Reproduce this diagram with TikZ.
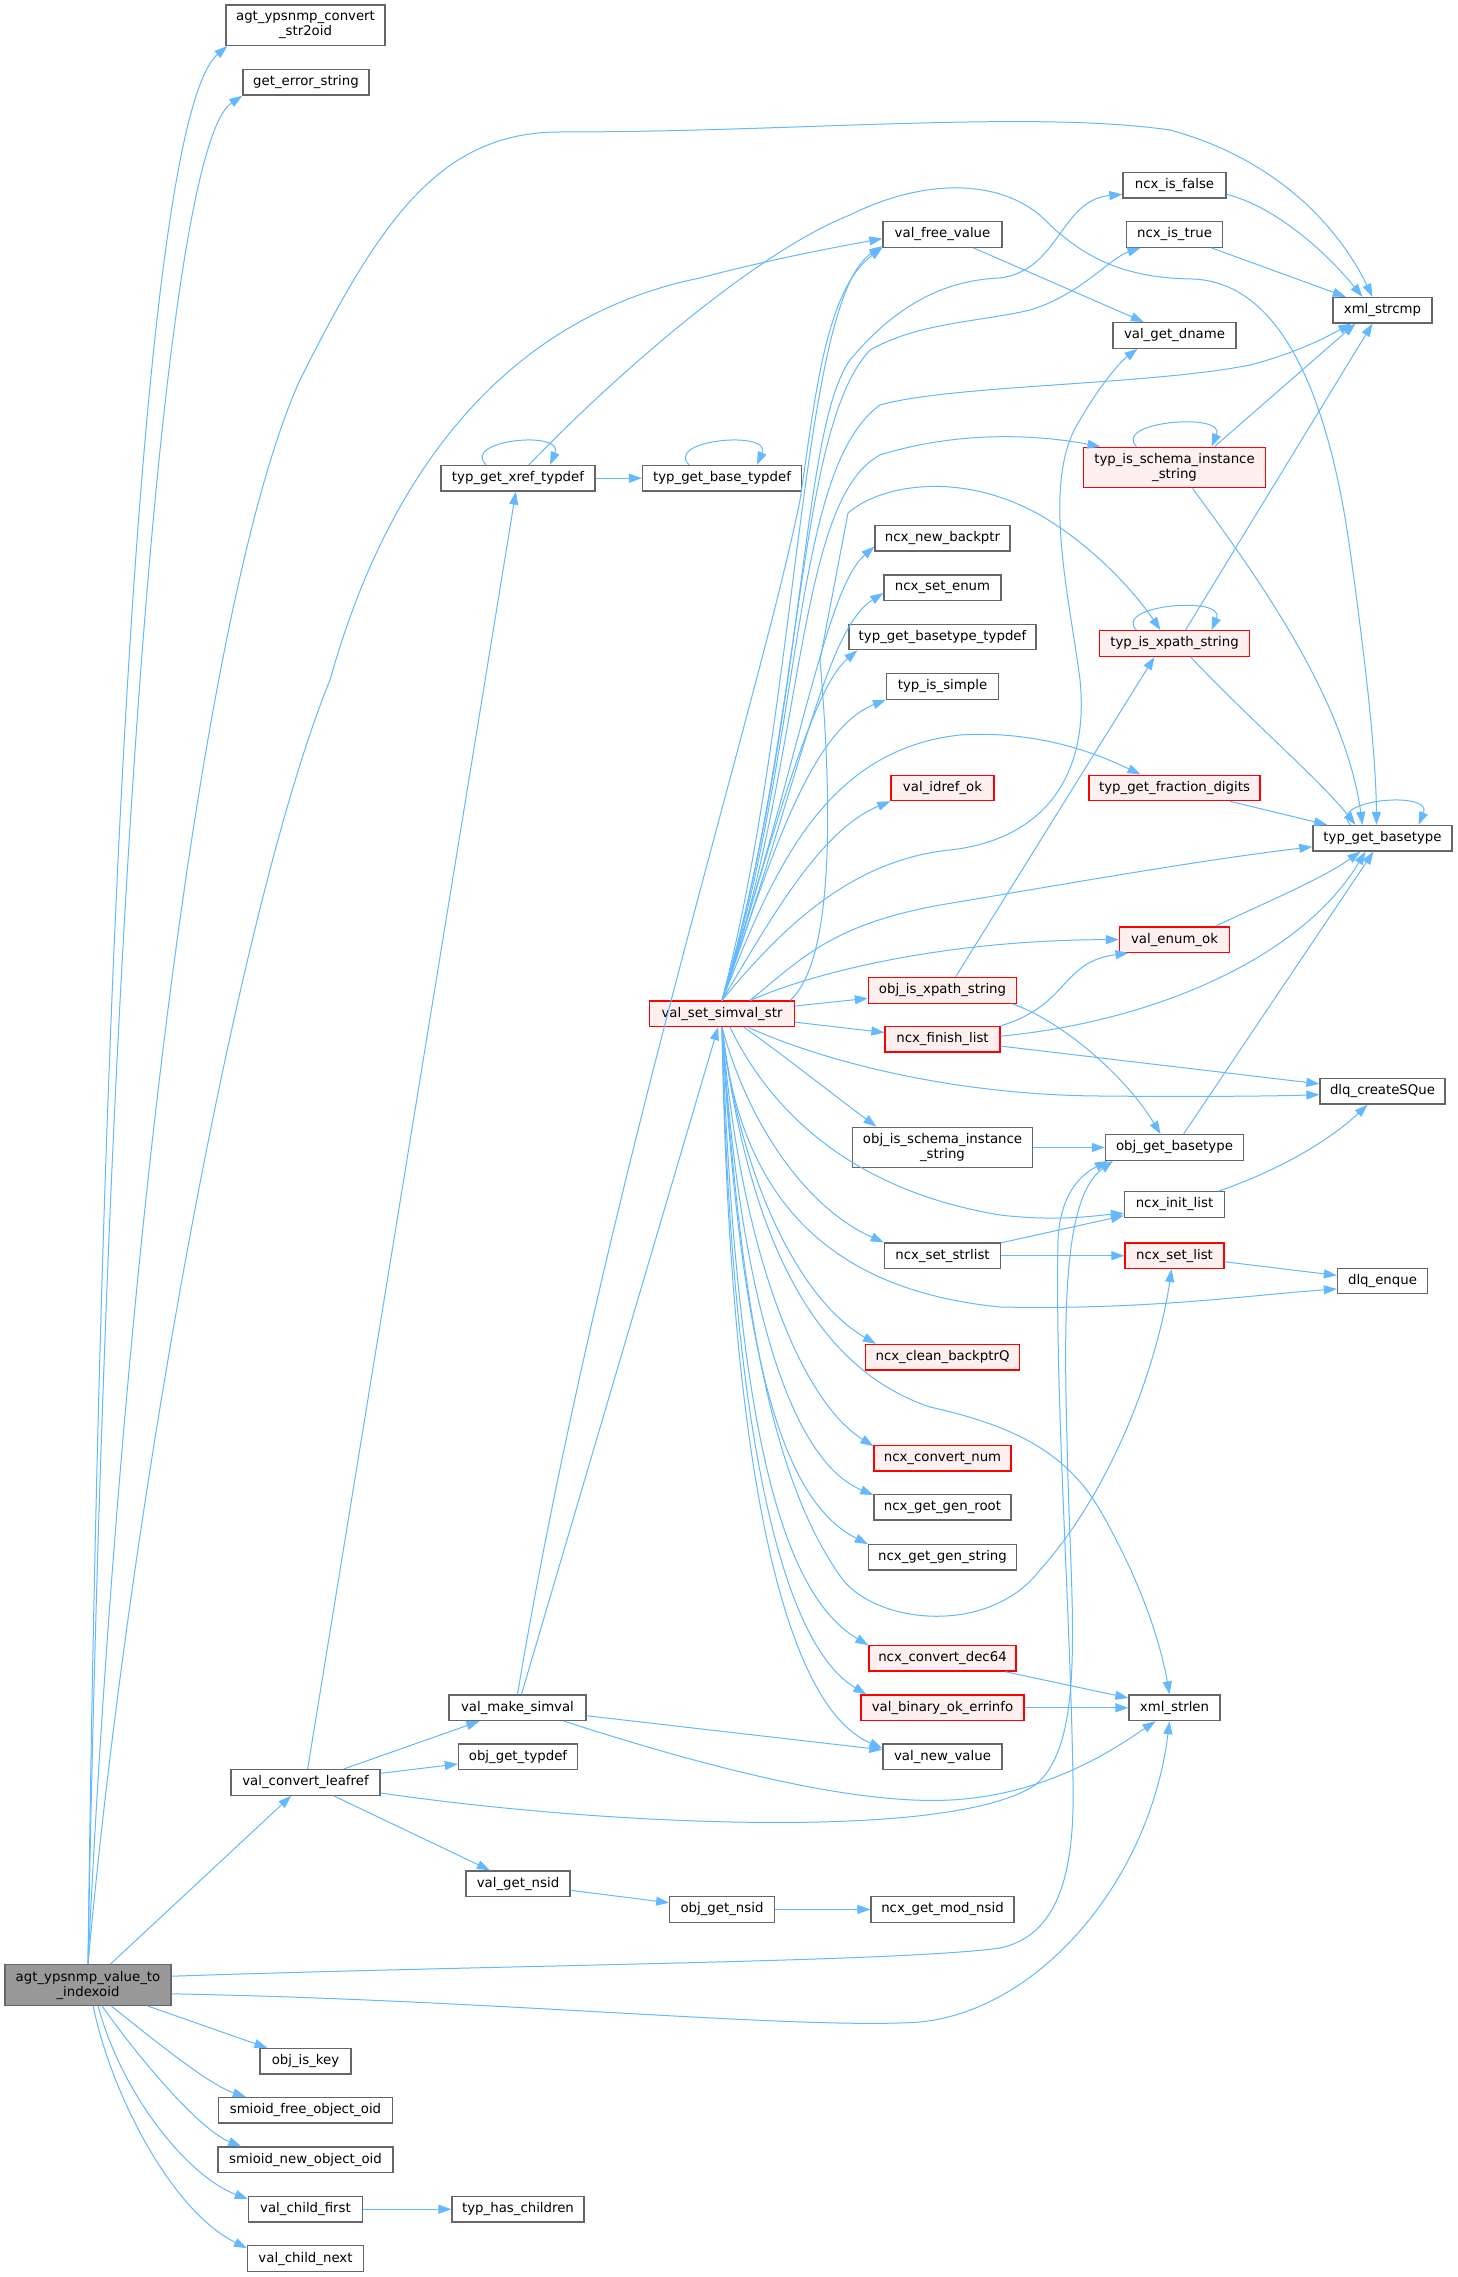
\documentclass[tikz,border=0pt]{standalone}
\usepackage{fontspec}
\setmainfont{DejaVu Sans}
\usetikzlibrary{arrows.meta}

\definecolor{edgeblue}{HTML}{63B8FF}
\definecolor{boxgray}{HTML}{666666}
\definecolor{boxred}{HTML}{FF0000}
\definecolor{redfill}{HTML}{FFF0F0}
\definecolor{rootfill}{HTML}{999999}

\begin{document}
\begin{tikzpicture}[x=1pt, y=-1pt,
    fn/.style={draw=boxgray, line width=1.3pt, fill=white, inner sep=0pt, minimum height=25.5pt, font=\fontsize{13.3}{15}\selectfont},
    fnred/.style={fn, draw=boxred, fill=redfill},
    fnroot/.style={fn, fill=rootfill},
    tall/.style={minimum height=40.5pt, align=center},
    call/.style={draw=edgeblue, line width=1pt, -{Triangle[length=13pt, width=9pt]}}]
    \path[use as bounding box, fill=white] (0,0) rectangle (1457,2277);

    % Caller
    \node[fnroot, tall, minimum width=166pt] (root) at (88,1985) {agt\_ypsnmp\_value\_to\\\_indexoid};

    % Second column
    \node[fn, tall, minimum width=159pt] (str2oid) at (305.5,25.2) {agt\_ypsnmp\_convert\\\_str2oid};
    \node[fn, minimum width=126pt] (geterr) at (306,82.4) {get\_error\_string};
    \node[fn, minimum width=149pt] (leafref) at (305.5,1782.4) {val\_convert\_leafref};
    \node[fn, minimum width=91pt] (iskey) at (305.5,2061.3) {obj\_is\_key};
    \node[fn, minimum width=174pt] (freeoid) at (305.5,2110.3) {smioid\_free\_object\_oid};
    \node[fn, minimum width=175pt] (newoid) at (305.5,2159.8) {smioid\_new\_object\_oid};
    \node[fn, minimum width=114pt] (childfirst) at (305.5,2209.2) {val\_child\_first};
    \node[fn, minimum width=116pt] (childnext) at (305.5,2258.5) {val\_child\_next};

    % Third column
    \node[fn, minimum width=154pt] (xrefdef) at (518,478.2) {typ\_get\_xref\_typdef};
    \node[fn, minimum width=137pt] (makesimval) at (517.5,1707.8) {val\_make\_simval};
    \node[fn, minimum width=119pt] (objtypdef) at (518,1756.7) {obj\_get\_typdef};
    \node[fn, minimum width=104pt] (getnsid) at (518,1883.7) {val\_get\_nsid};
    \node[fn, minimum width=132pt] (haschildren) at (518,2209.2) {typ\_has\_children};

    % Fourth column
    \node[fn, minimum width=159pt] (basetypdef) at (722,478.2) {typ\_get\_base\_typdef};
    \node[fnred, minimum width=145pt] (setsimval) at (722,1013.8) {val\_set\_simval\_str};
    \node[fn, minimum width=104.5pt] (objnsid) at (722,1909.4) {obj\_get\_nsid};

    % Fifth column
    \node[fn, minimum width=119pt] (freeval) at (942.5,234.4) {val\_free\_value};
    \node[fn, minimum width=135pt] (newbackptr) at (942.5,538.1) {ncx\_new\_backptr};
    \node[fn, minimum width=117pt] (setenum) at (942.5,587.8) {ncx\_set\_enum};
    \node[fn, minimum width=187pt] (basetypetypdef) at (942.5,637) {typ\_get\_basetype\_typdef};
    \node[fn, minimum width=112pt] (issimple) at (942.5,686.4) {typ\_is\_simple};
    \node[fnred, minimum width=103pt] (idrefok) at (942.5,787.9) {val\_idref\_ok};
    \node[fnred, minimum width=148pt] (objxpath) at (942.5,990.4) {obj\_is\_xpath\_string};
    \node[fnred, minimum width=115pt] (finishlist) at (942.5,1039.2) {ncx\_finish\_list};
    \node[fn, tall, minimum width=180pt] (objschema) at (942.5,1147.5) {obj\_is\_schema\_instance\\\_string};
    \node[fn, minimum width=116pt] (setstrlist) at (942.5,1255.7) {ncx\_set\_strlist};
    \node[fnred, minimum width=154pt] (cleanbackptr) at (942.5,1357.2) {ncx\_clean\_backptrQ};
    \node[fnred, minimum width=137pt] (convertnum) at (942.5,1458.3) {ncx\_convert\_num};
    \node[fn, minimum width=137pt] (genroot) at (942.5,1507.2) {ncx\_get\_gen\_root};
    \node[fn, minimum width=148pt] (genstring) at (942.5,1557.2) {ncx\_get\_gen\_string};
    \node[fnred, minimum width=147pt] (convdec64) at (942.5,1658.3) {ncx\_convert\_dec64};
    \node[fnred, minimum width=163pt] (binaryok) at (942.5,1707.8) {val\_binary\_ok\_errinfo};
    \node[fn, minimum width=119pt] (newvalue) at (942.5,1756.7) {val\_new\_value};
    \node[fn, minimum width=143pt] (modnsid) at (942.5,1909.4) {ncx\_get\_mod\_nsid};

    % Sixth column
    \node[fn, minimum width=103pt] (isfalse) at (1174.5,185.2) {ncx\_is\_false};
    \node[fn, minimum width=96pt] (istrue) at (1174.5,234.4) {ncx\_is\_true};
    \node[fn, minimum width=123pt] (getdname) at (1174.5,335.4) {val\_get\_dname};
    \node[fnred, tall, minimum width=182pt] (isschema) at (1174.5,467.5) {typ\_is\_schema\_instance\\\_string};
    \node[fnred, minimum width=150pt] (isxpath) at (1174.5,643.5) {typ\_is\_xpath\_string};
    \node[fnred, minimum width=171pt] (fracdigits) at (1174.5,787.9) {typ\_get\_fraction\_digits};
    \node[fnred, minimum width=110pt] (enumok) at (1174.5,939.6) {val\_enum\_ok};
    \node[fn, minimum width=138pt] (objbasetype) at (1174.5,1147.5) {obj\_get\_basetype};
    \node[fn, minimum width=100pt] (initlist) at (1174.5,1204.5) {ncx\_init\_list};
    \node[fnred, minimum width=99pt] (setlist) at (1174.5,1255.7) {ncx\_set\_list};
    \node[fn, minimum width=91pt] (strlen) at (1174.5,1707.8) {xml\_strlen};

    % Last column
    \node[fn, minimum width=99pt] (strcmp) at (1382.5,310.2) {xml\_strcmp};
    \node[fn, minimum width=139pt] (getbasetype) at (1382.5,838.2) {typ\_get\_basetype};
    \node[fn, minimum width=125pt] (createsque) at (1382.5,1091.3) {dlq\_createSQue};
    \node[fn, minimum width=90pt] (enque) at (1382.5,1280.9) {dlq\_enque};

    % Calls of agt_ypsnmp_value_to_indexoid
    \draw[call] (root.north) .. controls (100,1000) and (140,120) .. ([xshift=2pt]str2oid.south west);
    \draw[call] (root.north) .. controls (105,1000) and (160,150) .. (geterr.south west);
    \draw[call] (root.north) .. controls (120,1300) and (200,600) .. (300,380)
        .. controls (380,220) and (440,132) .. (560,132)
        .. controls (800,132) and (1030,110) .. (1170,130)
        .. controls (1280,160) and (1340,230) .. ([xshift=-10pt]strcmp.north);
    \draw[call] (root.north) .. controls (130,1500) and (240,900) .. (330,680)
        .. controls (400,430) and (540,310) .. (700,278)
        .. controls (760,262) and (820,250) .. (freeval.184);
    \draw[call] (root) -- (leafref);
    \draw[call] (root.6) .. controls (500,1965) and (900,1962) .. (1000,1948)
        .. controls (1060,1935) and (1075,1870) .. (1073,1780)
        .. controls (1070,1600) and (1055,1400) .. (1058,1240)
        .. controls (1060,1195) and (1080,1175) .. ([xshift=3pt]objbasetype.south west);
    \draw[call] (root.-6) .. controls (500,2000) and (800,2030) .. (920,2022)
        .. controls (1040,2010) and (1150,1880) .. ([xshift=-5pt]strlen.south);
    \draw[call] (root) -- (iskey);
    \draw[call] (root.-42) .. controls (160,2045) and (210,2085) .. ([xshift=28pt]freeoid.north west);
    \draw[call] (root.-56) .. controls (140,2060) and (200,2130) .. ([xshift=24pt]newoid.north west);
    \draw[call] (root.-64) .. controls (120,2090) and (185,2175) .. (childfirst.170);
    \draw[call] (root.-76) .. controls (110,2090) and (170,2210) .. (childnext.170);

    % Calls of val_convert_leafref
    \draw[call] (leafref) -- (makesimval);
    \draw[call] (leafref) -- (objtypdef);
    \draw[call] (leafref) -- (getnsid);
    \draw[call] (leafref) -- (xrefdef);
    \draw[call] (leafref.-8) .. controls (600,1825) and (950,1842) .. (1035,1785)
        .. controls (1085,1745) and (1072,1620) .. (1068,1480)
        .. controls (1064,1330) and (1060,1200) .. ([xshift=8pt]objbasetype.south west);
    \draw[call] (getnsid) -- (objnsid);
    \draw[call] (objnsid) -- (modnsid);
    \draw[call] (childfirst) -- (haschildren);

    % Calls of val_make_simval
    \draw[call] (makesimval.north) .. controls (600,1200) and (760,700) .. (800,500)
        .. controls (815,400) and (825,290) .. (freeval.south west);
    \draw[call] (makesimval) -- (setsimval);
    \draw[call] (makesimval) -- (newvalue);
    \draw[call] (makesimval.-16) .. controls (700,1765) and (850,1805) .. (950,1800)
        .. controls (1050,1795) and (1120,1745) .. ([xshift=-19pt]strlen.south);

    % Type helpers
    \draw[call] ([xshift=-32pt]xrefdef.north) .. controls +(-25,-25) and +(15,-35) .. ([xshift=32pt]xrefdef.north);
    \draw[call] (xrefdef) -- (basetypdef);
    \draw[call] ([xshift=11pt]xrefdef.north) .. controls (620,370) and (760,250) .. (850,215)
        .. controls (930,175) and (1010,180) .. (1050,225)
        .. controls (1090,262) and (1130,278) .. (1192,279)
        .. controls (1290,282) and (1332,420) .. (1350,550)
        .. controls (1368,680) and (1376,760) .. ([xshift=-6pt]getbasetype.north);
    \draw[call] ([xshift=-33pt]basetypdef.north) .. controls +(-25,-25) and +(15,-35) .. ([xshift=35pt]basetypdef.north);
    \draw[call] (freeval) -- (getdname);
    \draw[call] (isfalse.-10) .. controls (1270,205) and (1320,245) .. ([xshift=-20pt]strcmp.north);
    \draw[call] (istrue) -- (strcmp);
    \draw[call] ([xshift=-38pt]isschema.north) .. controls +(-25,-25) and +(15,-35) .. ([xshift=37pt]isschema.north);
    \draw[call] ([xshift=40pt]isschema.north) -- ([xshift=-27pt]strcmp.south);
    \draw[call] ([xshift=18pt]isschema.south) .. controls (1260,580) and (1345,700) .. ([xshift=-20pt]getbasetype.north);
    \draw[call] ([xshift=-38pt]isxpath.north) .. controls +(-25,-25) and +(15,-35) .. ([xshift=37pt]isxpath.north);
    \draw[call] ([xshift=11pt]isxpath.north) -- ([xshift=-10pt]strcmp.south);
    \draw[call] ([xshift=16pt]isxpath.south) .. controls (1250,720) and (1320,780) .. ([xshift=-27pt]getbasetype.north);
    \draw[call] (fracdigits) -- (getbasetype);
    \draw[call] ([xshift=-32pt]getbasetype.north) .. controls +(-25,-25) and +(15,-35) .. ([xshift=36pt]getbasetype.north);
    \draw[call] ([xshift=41pt]enumok.north) .. controls (1260,905) and (1320,880) .. ([xshift=-22pt]getbasetype.south);
    \draw[call] ([xshift=13pt]objxpath.north) -- ([xshift=-20pt]isxpath.south);
    \draw[call] ([xshift=-5pt]objxpath.south east) .. controls (1060,1020) and (1125,1075) .. ([xshift=-14pt]objbasetype.north);
    \draw[call] (finishlist.north east) .. controls (1070,1005) and (1060,962) .. ([xshift=-46pt]enumok.south);
    \draw[call] (finishlist.3) .. controls (1150,1022) and (1300,960) .. ([xshift=-17pt]getbasetype.south);
    \draw[call] (finishlist) -- (createsque);
    \draw[call] (objschema) -- (objbasetype);
    \draw[call] (objbasetype) -- (getbasetype);
    \draw[call] ([xshift=44pt]initlist.north) .. controls (1280,1170) and (1330,1140) .. ([xshift=-15pt]createsque.south);
    \draw[call] (setstrlist) -- (initlist);
    \draw[call] (setstrlist) -- (setlist);
    \draw[call] (setlist) -- (enque);
    \draw[call] (convdec64) -- (strlen);
    \draw[call] (binaryok) -- (strlen);

    % Calls of val_set_simval_str, upwards
    \draw[call] (setsimval.north) .. controls (800,700) and (800,300) .. (freeval.191);
    \draw[call] (setsimval.north) .. controls (805,720) and (800,430) .. (850,360)
        .. controls (900,300) and (950,280) .. (1000,278)
        .. controls (1060,270) and (1060,200) .. (isfalse.-170);
    \draw[call] (setsimval.north) .. controls (805,720) and (795,430) .. (870,350)
        .. controls (920,322) and (980,322) .. (1030,310)
        .. controls (1080,295) and (1110,258) .. ([xshift=-34pt]istrue.south);
    \draw[call] (setsimval.north) .. controls (805,740) and (790,470) .. (880,405)
        .. controls (950,385) and (1150,385) .. (1250,365)
        .. controls (1300,352) and (1330,335) .. ([xshift=-31pt]strcmp.south);
    \draw[call] (setsimval.north) .. controls (780,930) and (850,860) .. (950,850)
        .. controls (1040,840) and (1090,780) .. (1080,680)
        .. controls (1070,600) and (1040,480) .. (1080,420)
        .. controls (1100,385) and (1120,362) .. ([xshift=-37pt]getdname.south);
    \draw[call] (setsimval.north) .. controls (805,760) and (795,500) .. (880,455)
        .. controls (960,430) and (1040,435) .. ([xshift=-74pt]isschema.north);
    \draw[call] ([xshift=-5pt]setsimval.north east) .. controls (835,960) and (832,800) .. (820,660)
        -- (848,513) .. controls (880,485) and (960,470) .. (1040,515)
        .. controls (1100,550) and (1140,600) .. ([xshift=-14pt]isxpath.north);
    \draw[call] (setsimval.north) .. controls (800,760) and (825,590) .. (newbackptr.-173);
    \draw[call] (setsimval.north) .. controls (800,780) and (825,630) .. (setenum.-175);
    \draw[call] (setsimval.north) .. controls (770,850) and (810,690) .. ([xshift=9pt]basetypetypdef.south west);
    \draw[call] (setsimval.north) .. controls (770,860) and (810,730) .. (issimple.south west);
    \draw[call] (setsimval.north) .. controls (770,920) and (820,830) .. (idrefok.south west);
    \draw[call] (setsimval.north) .. controls (770,880) and (820,750) .. (960,735)
        .. controls (1040,730) and (1100,755) .. ([xshift=-34pt]fracdigits.north);
    \draw[call] ([xshift=28pt]setsimval.north) .. controls (800,960) and (830,925) .. (940,905)
        .. controls (1060,885) and (1200,860) .. (getbasetype.-173);
    \draw[call] ([xshift=28pt]setsimval.north) .. controls (820,970) and (950,940) .. (enumok.west);
    \draw[call] (setsimval) -- (objxpath);
    \draw[call] (setsimval) -- (finishlist);

    % Calls of val_set_simval_str, downwards
    \draw[call] ([xshift=26pt]setsimval.south) .. controls (820,1060) and (950,1095) .. (1100,1096)
        .. controls (1200,1097) and (1280,1096) .. (createsque.-177);
    \draw[call] ([xshift=22pt]setsimval.south) .. controls (790,1060) and (840,1100) .. ([xshift=-66pt]objschema.north);
    \draw[call] ([xshift=8pt]setsimval.south) .. controls (770,1110) and (850,1190) .. (1000,1215)
        .. controls (1060,1222) and (1100,1215) .. (initlist.-170);
    \draw[call] (setsimval.south) .. controls (750,1130) and (810,1210) .. (setstrlist.north west);
    \draw[call] (setsimval.south) .. controls (740,1200) and (830,1290) .. (1000,1307)
        .. controls (1150,1310) and (1250,1295) .. (enque.-170);
    \draw[call] (setsimval.south) .. controls (740,1180) and (800,1300) .. ([xshift=11pt]cleanbackptr.north west);
    \draw[call] (setsimval.south) .. controls (740,1300) and (770,1480) .. (843,1580)
        .. controls (880,1625) and (990,1635) .. (1040,1570)
        .. controls (1120,1480) and (1160,1350) .. ([xshift=-3pt]setlist.south);
    \draw[call] (setsimval.south) .. controls (750,1250) and (820,1370) .. (930,1407)
        .. controls (1010,1425) and (1065,1450) .. (1100,1510)
        .. controls (1140,1580) and (1160,1640) .. ([xshift=-5pt]strlen.north);
    \draw[call] (setsimval.south) .. controls (740,1250) and (800,1400) .. (convertnum.170);
    \draw[call] (setsimval.south) .. controls (740,1300) and (790,1460) .. (genroot.170);
    \draw[call] (setsimval.south) .. controls (740,1350) and (780,1500) .. (genstring.170);
    \draw[call] (setsimval.south) .. controls (735,1400) and (775,1590) .. (convdec64.170);
    \draw[call] (setsimval.south) .. controls (730,1400) and (775,1640) .. ([xshift=6pt]binaryok.north west);
    \draw[call] (setsimval.south) .. controls (728,1400) and (770,1700) .. (newvalue.172);
\end{tikzpicture}
\end{document}
